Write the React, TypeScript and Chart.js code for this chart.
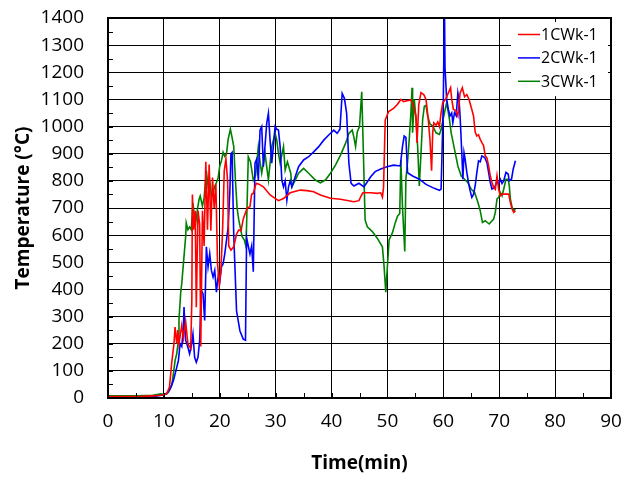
import React, { useEffect, useRef } from "react";
import { Chart, registerables } from "chart.js";

Chart.register(...registerables);

// ---- data (time in min, temperature in °C) ----
const seriesNames = ["1CWk-1", "2CWk-1", "3CWk-1"];
const seriesColors = ["#ff0000", "#0000ff", "#008000"];

const redTime = [0, 3, 6, 8, 9.5, 10.5, 11, 11.4, 11.8, 12.0, 12.3, 12.5, 12.7, 13.2, 13.5, 13.9, 14.3, 14.8, 15.0, 15.1, 15.3, 15.6, 15.8, 16.1, 16.4, 16.6, 16.9, 17.2, 17.5, 17.8, 18.1, 18.4, 18.7, 19.0, 19.3, 19.6, 19.9, 20.2, 20.5, 20.8, 21.1, 21.4, 21.6, 22.0, 22.5, 23.0, 23.4, 23.8, 24.2, 24.9, 25.1, 25.4, 25.7, 26.0, 26.5, 27.0, 27.8, 29.0, 30.5, 31.4, 32.6, 34.4, 35.6, 36.8, 38.0, 39.8, 41.6, 44.0, 44.9, 45.3, 45.6, 47.0, 48.2, 48.8, 49.1, 49.3, 49.6, 50.2, 51.1, 51.8, 52.4, 52.9, 53.3, 54.2, 54.6, 55.1, 55.3, 55.6, 56.0, 56.5, 56.9, 57.3, 57.6, 57.9, 58.1, 58.3, 58.7, 59.0, 59.3, 59.6, 59.9, 60.4, 60.9, 61.3, 61.5, 61.8, 62.2, 62.6, 63.0, 63.4, 63.8, 64.2, 64.6, 65.1, 65.4, 65.7, 66.0, 66.3, 66.6, 66.9, 67.2, 67.5, 67.8, 68.1, 68.4, 68.7, 69.0, 69.3, 69.6, 69.9, 70.2, 70.5, 71.1, 71.7, 72.0, 72.3, 72.6, 72.9];
const redTemp = [5, 5, 6, 8, 10, 15, 40, 130, 200, 261, 200, 250, 200, 268, 220, 280, 199, 182, 360, 750, 620, 690, 334, 690, 640, 190, 690, 560, 870, 620, 860, 616, 812, 700, 788, 493, 420, 470, 616, 837, 880, 800, 560, 545, 557, 604, 619, 616, 660, 700, 702, 705, 751, 754, 791, 788, 778, 748, 727, 735, 756, 766, 764, 760, 748, 736, 732, 723, 727, 745, 756, 756, 754, 756, 740, 775, 1024, 1055, 1067, 1082, 1100, 1092, 1094, 1098, 1080, 1039, 940, 1080, 1125, 1118, 1100, 1027, 953, 837, 978, 1014, 1005, 1017, 1000, 1051, 1088, 1100, 1124, 1143, 1100, 1063, 1060, 1039, 1124, 1143, 1110, 1118, 1100, 1063, 1039, 980, 965, 970, 953, 941, 930, 892, 885, 855, 818, 794, 776, 769, 818, 769, 745, 751, 751, 751, 720, 696, 684, 690];

const blueTime = [0, 5, 8, 9.5, 10, 10.5, 11.1, 11.7, 12.3, 12.6, 12.9, 13.2, 13.5, 13.6, 13.9, 14.3, 14.6, 14.9, 15.2, 15.5, 15.8, 16.1, 16.4, 16.7, 17.0, 17.3, 17.6, 17.9, 18.2, 18.5, 18.8, 19.1, 19.4, 19.7, 20.0, 20.3, 20.6, 20.9, 21.2, 21.5, 21.8, 22.0, 22.2, 22.5, 23.0, 23.6, 24.2, 24.6, 24.8, 25.1, 25.4, 25.7, 26.0, 26.3, 26.6, 26.9, 27.2, 27.5, 27.8, 28.1, 28.4, 28.7, 29.0, 29.3, 29.6, 29.9, 30.2, 30.5, 30.8, 31.1, 31.4, 31.7, 32.0, 32.3, 32.6, 32.9, 33.5, 34.1, 35.0, 35.9, 36.8, 37.7, 38.6, 39.5, 40.4, 41.0, 41.5, 41.9, 42.3, 42.7, 43.1, 43.5, 44.0, 44.9, 45.8, 47.0, 47.8, 48.7, 49.9, 51.1, 52.3, 52.7, 53.0, 53.3, 53.6, 54.5, 55.7, 56.9, 58.1, 59.3, 59.6, 59.8, 60.0, 60.2, 60.3, 60.6, 60.9, 61.2, 61.5, 61.7, 62.0, 62.3, 62.6, 62.8, 63.0, 63.3, 63.5, 63.7, 63.9, 64.2, 64.5, 64.8, 65.1, 65.4, 65.7, 66.0, 66.3, 66.6, 66.9, 67.4, 67.8, 68.1, 68.4, 68.7, 69.2, 69.6, 69.9, 70.2, 70.5, 70.8, 71.2, 71.6, 71.8, 72.2, 72.5, 72.9];
const blueTemp = [3, 3, 5, 10, 12, 15, 33, 64, 113, 138, 200, 190, 261, 335, 212, 187, 163, 190, 236, 150, 132, 150, 212, 397, 384, 286, 557, 483, 532, 470, 446, 470, 390, 446, 427, 483, 495, 532, 581, 631, 760, 900, 905, 600, 321, 248, 217, 213, 591, 560, 530, 560, 465, 865, 880, 803, 987, 1000, 852, 930, 1012, 1049, 950, 865, 930, 1000, 990, 987, 926, 803, 778, 800, 729, 778, 800, 778, 815, 852, 877, 889, 907, 926, 950, 969, 987, 975, 990, 1122, 1104, 1049, 865, 791, 781, 791, 778, 815, 834, 843, 852, 858, 855, 928, 965, 960, 830, 818, 806, 787, 775, 765, 770, 928, 1100, 1450, 1216, 1100, 1063, 1039, 1050, 1014, 1051, 1040, 1124, 1100, 1039, 904, 806, 904, 880, 831, 794, 763, 739, 750, 782, 831, 874, 870, 892, 886, 867, 831, 794, 770, 776, 800, 788, 806, 790, 800, 831, 825, 800, 806, 843, 874];

const greenTime = [0, 5, 8, 9.5, 10, 10.8, 11.4, 11.7, 12.0, 12.3, 12.6, 12.7, 13.0, 13.2, 13.5, 13.6, 13.9, 14.0, 14.3, 14.6, 14.9, 15.2, 15.4, 15.7, 16.0, 16.3, 16.5, 16.9, 17.2, 17.6, 17.9, 18.2, 18.5, 18.8, 19.1, 19.4, 19.7, 20.0, 20.3, 20.6, 20.9, 21.2, 21.5, 21.9, 22.2, 22.5, 22.8, 23.1, 23.4, 24.0, 24.4, 24.7, 25.1, 25.5, 26.0, 26.4, 26.9, 27.2, 27.5, 28.1, 28.7, 29.3, 29.9, 30.2, 30.5, 30.8, 31.4, 31.7, 32.1, 32.7, 32.9, 33.5, 34.1, 35.0, 35.9, 37.1, 38.0, 38.9, 39.8, 40.7, 41.6, 42.5, 43.1, 43.7, 44.0, 44.3, 44.6, 45.0, 45.4, 45.7, 46.0, 46.4, 47.3, 48.2, 49.1, 49.4, 49.7, 50.0, 50.3, 50.9, 51.4, 51.8, 52.2, 52.4, 52.7, 53.1, 53.3, 53.6, 53.9, 54.2, 54.4, 54.5, 54.8, 55.1, 55.4, 55.7, 56.0, 56.3, 56.6, 56.9, 57.2, 57.6, 58.1, 58.7, 59.3, 59.6, 60.2, 60.6, 61.1, 61.4, 62.0, 62.6, 63.2, 63.8, 64.4, 65.0, 65.6, 66.2, 66.6, 67.0, 67.5, 68.2, 69.0, 69.3, 69.6, 69.9, 70.2, 70.5, 70.8, 71.2, 71.6, 71.8, 72.0, 72.3, 72.6, 72.9];
const greenTemp = [8, 8, 10, 15, 12, 21, 46, 89, 138, 163, 213, 287, 386, 423, 497, 522, 596, 645, 620, 630, 620, 719, 680, 645, 695, 732, 744, 707, 738, 837, 781, 800, 744, 756, 780, 794, 810, 855, 874, 905, 890, 899, 954, 990, 960, 926, 803, 700, 656, 594, 582, 557, 889, 870, 803, 820, 926, 870, 828, 900, 803, 926, 975, 950, 900, 865, 926, 840, 870, 828, 778, 803, 828, 846, 828, 803, 793, 803, 828, 858, 895, 938, 975, 987, 960, 926, 980, 1000, 1128, 900, 656, 631, 613, 588, 557, 484, 390, 487, 582, 609, 646, 670, 680, 877, 700, 540, 806, 870, 953, 1051, 1143, 977, 1100, 1030, 928, 781, 900, 1026, 1075, 1078, 1039, 1010, 1002, 977, 971, 990, 1051, 1088, 1026, 977, 916, 855, 818, 806, 793, 769, 757, 720, 690, 647, 653, 641, 659, 684, 733, 739, 757, 745, 769, 806, 806, 782, 733, 702, 690, 696];

const seriesTimes = [redTime, blueTime, greenTime];
const seriesTemps = [redTemp, blueTemp, greenTemp];

const xMin = 0, xMax = 90, xStep = 10, xMinorStep = 5;
const yMin = 0, yMax = 1400, yStep = 100, yMinorStep = 50;
const xTitle = "Time(min)";
const yTitle = "Temperature (°C)";

const FONT = "'Open Sans', 'Liberation Sans', sans-serif";

const framePlugin = {
  id: "frame",
  afterDatasetsDraw(chart: any) {
    const { ctx, chartArea } = chart;
    const xs = chart.scales.x;
    const ys = chart.scales.y;
    ctx.save();
    ctx.strokeStyle = "#000";
    ctx.lineWidth = 1;
    ctx.beginPath();
    for (let v = yMin; v <= yMax; v += yMinorStep) {
      const py = Math.round(ys.getPixelForValue(v)) + 0.5;
      ctx.moveTo(chartArea.left, py);
      ctx.lineTo(chartArea.left + 5, py);
    }
    for (let v = xMin; v <= xMax; v += xMinorStep) {
      const px = Math.round(xs.getPixelForValue(v)) + 0.5;
      ctx.moveTo(px, chartArea.bottom);
      ctx.lineTo(px, chartArea.bottom - 5);
    }
    ctx.stroke();
    ctx.lineWidth = 2;
    ctx.strokeRect(chartArea.left, chartArea.top, chartArea.right - chartArea.left, chartArea.bottom - chartArea.top);
    ctx.restore();
  },
};

const legendPlugin = {
  id: "insideLegend",
  afterDraw(chart: any) {
    const { ctx, chartArea } = chart;
    const boxLeft = chartArea.right - 100;
    const boxTop = chartArea.top + 4;
    const boxRight = chartArea.right - 3;
    const rowH = 23.4;
    ctx.save();
    ctx.fillStyle = "#fff";
    ctx.fillRect(boxLeft, boxTop, boxRight - boxLeft, rowH * 3 + 4);
    ctx.font = `16px ${FONT}`;
    ctx.textBaseline = "middle";
    ctx.textAlign = "left";
    seriesNames.forEach((name, i) => {
      const cy = boxTop + 12.5 + i * rowH;
      ctx.strokeStyle = seriesColors[i];
      ctx.lineWidth = 1.5;
      ctx.beginPath();
      ctx.moveTo(boxLeft + 7, cy);
      ctx.lineTo(boxLeft + 29, cy);
      ctx.stroke();
      ctx.fillStyle = "#000";
      ctx.fillText(name, boxLeft + 30, cy + 1);
    });
    ctx.restore();
  },
};

export default function App() {
  const ref = useRef<HTMLCanvasElement>(null);
  useEffect(() => {
    if (!ref.current) return;
    const datasets = seriesNames.map((name, i) => ({
      label: name,
      data: seriesTimes[i].map((t, j) => ({ x: t, y: seriesTemps[i][j] })),
      borderColor: seriesColors[i],
      backgroundColor: seriesColors[i],
      borderWidth: 1.6,
      pointRadius: 0,
      tension: 0,
      fill: false,
    }));
    const chart = new Chart(ref.current, {
      type: "line",
      data: { datasets },
      options: {
        animation: false,
        responsive: false,
        events: [],
        layout: { padding: { left: 8, top: 18, right: 15, bottom: 2 } },
        plugins: { legend: { display: false }, tooltip: { enabled: false } },
        scales: {
          x: {
            type: "linear",
            min: xMin,
            max: xMax,
            ticks: { stepSize: xStep, color: "#000", font: { family: FONT, size: 19 }, padding: 12, callback: (v: any) => String(v) },
            grid: { color: "#000", lineWidth: 1, drawTicks: false },
            border: { display: false },
            title: { display: true, text: xTitle, color: "#000", font: { family: FONT, size: 19, weight: "bold" }, padding: { top: 0, bottom: 2 } },
            afterFit: (s: any) => { s.height = 79; s.paddingLeft = 0; s.paddingRight = 0; },
          },
          y: {
            type: "linear",
            min: yMin,
            max: yMax,
            ticks: { stepSize: yStep, color: "#000", font: { family: FONT, size: 19 }, padding: 24, callback: (v: any) => String(v) },
            grid: { color: "#000", lineWidth: 1, drawTicks: false },
            border: { display: false },
            title: { display: true, text: yTitle, color: "#000", font: { family: FONT, size: 19, weight: "bold" }, padding: { top: 4, bottom: 0 } },
            afterFit: (s: any) => { s.width = 100; s.paddingTop = 0; s.paddingBottom = 0; },
          },
        },
      } as any,
      plugins: [framePlugin, legendPlugin],
    });
    return () => chart.destroy();
  }, []);
  return (
    <div style={{ position: "fixed", left: 0, top: 0, width: 626, height: 479, background: "#fff" }}>
      <canvas ref={ref} width={626} height={479} style={{ display: "block" }} />
    </div>
  );
}
